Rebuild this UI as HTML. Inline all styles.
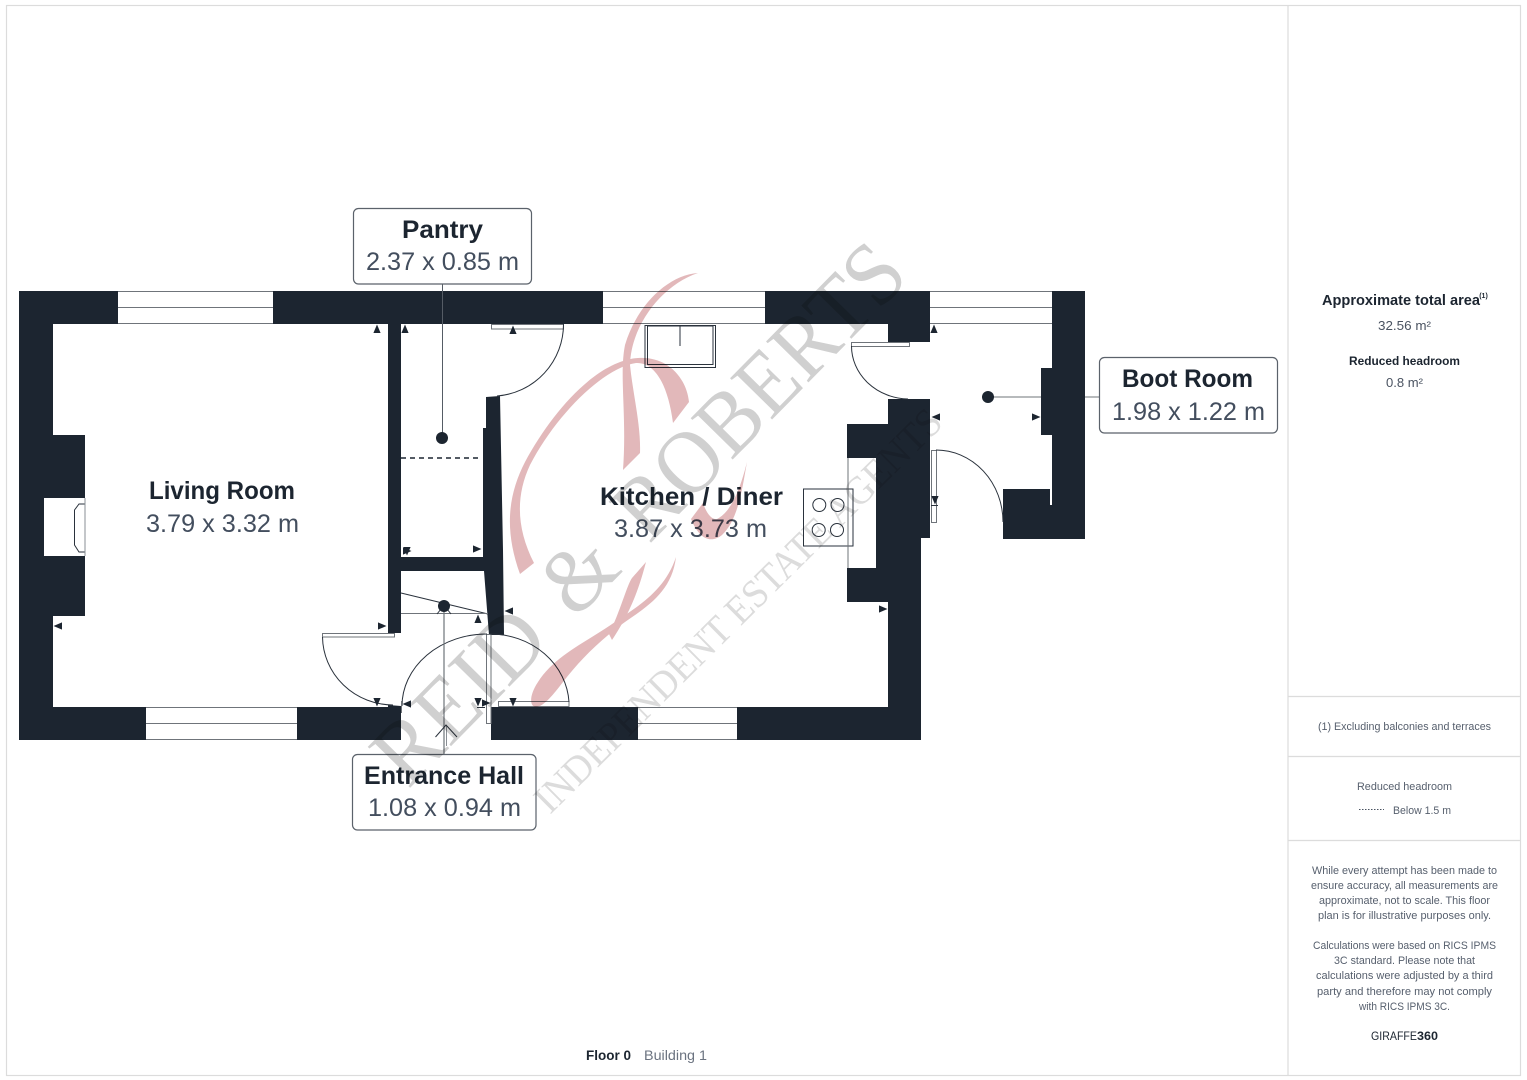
<!DOCTYPE html>
<html lang="en"><head><meta charset="utf-8"><title>Floor plan</title>
<style>
html,body{margin:0;padding:0;background:#fff;width:1527px;height:1080px;overflow:hidden}
svg{display:block;font-family:"Liberation Sans",sans-serif}
.t{font-weight:700;font-size:25px;fill:#1c2530;text-anchor:middle}
.d{font-size:25px;fill:#434e5e;text-anchor:middle}
.s{font-size:11px;fill:#565f6d;text-anchor:middle}
.w{fill:#1c2530}
.l{fill:none;stroke:#6f747a;stroke-width:1}
.k{fill:none;stroke:#2a323c;stroke-width:1}
.p{fill:#fff;stroke:#6f747a;stroke-width:1}
.m{mix-blend-mode:multiply}
</style></head><body>
<svg width="1527" height="1080" viewBox="0 0 1527 1080" xmlns="http://www.w3.org/2000/svg">
<defs><polygon id="a" points="0,-4.5 3.6,4 -3.6,4" fill="#1c2530"/></defs>
<rect width="1527" height="1080" fill="#fff"/>
<!-- frame -->
<g fill="none" stroke="#dcdcdc" stroke-width="1.2">
<rect x="6.5" y="5.5" width="1514" height="1070"/>
<path d="M1288 5V1075M1288 696.5H1521M1288 756.5H1521M1288 840.5H1521"/>
</g>
<!-- walls -->
<path class="w" d="M19 291H118V324H53V435H85V616H53V707H146V740H19Z"/>
<rect class="w" x="273" y="291" width="330" height="33"/>
<path class="w" d="M765 291H930V342H888V324H765Z"/>
<path class="w" d="M1052 291H1085V539H1003V489H1050V505H1052V435H1041V368H1052Z"/>
<path class="w" d="M888 399H930V538H921V740H737V707H888V602H847V568H876V458H847V424H888Z"/>
<rect class="w" x="491" y="707" width="147" height="33"/>
<path class="w" d="M297 707H388V705L401 706V740H297Z"/>
<rect class="w" x="388" y="324" width="13" height="309"/>
<path class="w" d="M486 397L500 396L503 550L504 635H489L484 571H401V557H483V428H486Z"/>
<!-- windows -->
<g class="l">
<path d="M118 291.5H273M118 307.5H273M118 323.5H273"/>
<path d="M603 291.5H765M603 307.5H765M603 323.5H765"/>
<path d="M930 291.5H1052M930 307.5H1052M930 323.5H1052"/>
<path d="M146 707.5H297M146 723.5H297M146 739.5H297"/>
<path d="M638 707.5H737M638 723.5H737M638 739.5H737"/>
</g>
<!-- fireplace -->
<rect x="44" y="498" width="41" height="58" fill="#fff"/>
<path class="k" d="M84.5 504H79L74.5 510V545L79 552H84.5"/>
<path d="M85 498V556" stroke="#8a8f95" stroke-width="1"/>
<!-- door leaves -->
<rect class="p" x="322.5" y="633.5" width="72" height="3.5"/>
<rect class="p" x="491.5" y="324.5" width="72" height="4.5"/>
<rect class="p" x="851.5" y="342.5" width="58" height="4"/>
<rect class="p" x="931.5" y="450.5" width="5" height="72"/>
<rect class="p" x="486.5" y="634.5" width="4.5" height="89"/>
<rect class="p" x="498.5" y="701.5" width="70.5" height="5"/>
<!-- door arcs -->
<g class="k">
<path d="M322.5 637A71 69 0 0 0 393 705"/>
<path d="M563.5 324A72 72 0 0 1 497 396"/>
<path d="M851.5 346A58 53 0 0 0 908 399"/>
<path d="M936 450A67 72 0 0 1 1003 522"/>
<path d="M402 706A85 72 0 0 1 487 634"/>
<path d="M490 634A79 72 0 0 1 569 702"/>
</g>
<path d="M401.5 701V713" stroke="#6f747a"/>
<path d="M477 707.5H485M931 505.5H938" stroke="#2a323c"/>
<!-- stairs, dashes, lines -->
<path class="k" d="M401 593L488 614"/>
<path class="l" d="M401 613.5H488"/>
<path d="M437 614L441 609M451 614L447 609" stroke="#2a323c"/>
<path d="M401 458H481" stroke="#1c2530" stroke-width="1.6" stroke-dasharray="5 4"/>
<path d="M442.5 284V438" stroke="#555c65" stroke-width="1"/>
<circle cx="442" cy="438" r="6" fill="#1c2530"/>
<path d="M444 606V754" stroke="#6f747a" stroke-width="1.2"/>
<path d="M446.500 726V746" stroke="#8a8f95" stroke-width="1"/>
<circle cx="444" cy="606" r="6" fill="#1c2530"/>
<path d="M435.500 737L446 725L457 737" fill="none" stroke="#2a323c"/>
<path d="M988 397H1041M1085 397H1099" stroke="#6f747a" stroke-width="1"/>
<circle cx="988" cy="397" r="6" fill="#1c2530"/>
<!-- sink & hob -->
<g class="k">
<rect x="645" y="325.500" width="70.500" height="42"/>
<rect x="647.500" y="326" width="65.500" height="38.500"/>
<path d="M680 325V346"/>
<rect x="803.500" y="489" width="49.500" height="57"/>
<circle cx="819.300" cy="505" r="6.500"/><circle cx="837.500" cy="505" r="6.500"/>
<circle cx="818.700" cy="530" r="6.500"/><circle cx="837" cy="530" r="6.500"/>
</g>
<path class="l" d="M848 458V568"/>
<!-- arrowheads -->
<use href="#a" transform="translate(377,329)"/>
<use href="#a" transform="translate(405,329)"/>
<use href="#a" transform="translate(513,330)"/>
<use href="#a" transform="translate(934,329)"/>
<use href="#a" transform="translate(936,417) rotate(-90)"/>
<use href="#a" transform="translate(1036,417) rotate(90)"/>
<use href="#a" transform="translate(935,500) rotate(180)"/>
<use href="#a" transform="translate(58,626) rotate(-90)"/>
<use href="#a" transform="translate(382,626) rotate(90)"/>
<use href="#a" transform="translate(377,702) rotate(180)"/>
<use href="#a" transform="translate(407,704) rotate(-90)"/>
<use href="#a" transform="translate(407,551) rotate(180)"/>
<use href="#a" transform="translate(407,551) rotate(90)"/>
<use href="#a" transform="translate(477,549) rotate(90)"/>
<use href="#a" transform="translate(478,619)"/>
<use href="#a" transform="translate(509,611) rotate(-90)"/>
<use href="#a" transform="translate(478,702) rotate(180)"/>
<use href="#a" transform="translate(486,703) rotate(90)"/>
<use href="#a" transform="translate(513,702) rotate(180)"/>
<use href="#a" transform="translate(883,609) rotate(90)"/>
<!-- label boxes -->
<g fill="#fff" stroke="#5b626b" stroke-width="1.2">
<rect x="353.500" y="208.500" width="178" height="75.500" rx="5"/>
<rect x="1099.500" y="357.500" width="178" height="75.500" rx="5"/>
<rect x="352.500" y="754.500" width="183.500" height="75.500" rx="5"/>
</g>
<!-- room text -->
<text class="t" x="222" y="499" textLength="146" lengthAdjust="spacingAndGlyphs">Living Room</text>
<text class="d" x="222.500" y="532" textLength="153" lengthAdjust="spacingAndGlyphs">3.79 x 3.32 m</text>
<text class="t" x="442.500" y="238" textLength="81" lengthAdjust="spacingAndGlyphs">Pantry</text>
<text class="d" x="442.500" y="270" textLength="153" lengthAdjust="spacingAndGlyphs">2.37 x 0.85 m</text>
<text class="t" x="691.500" y="505" textLength="183" lengthAdjust="spacingAndGlyphs">Kitchen / Diner</text>
<text class="d" x="690.500" y="537" textLength="153" lengthAdjust="spacingAndGlyphs">3.87 x 3.73 m</text>
<text class="t" x="1187.500" y="387" textLength="131" lengthAdjust="spacingAndGlyphs">Boot Room</text>
<text class="d" x="1188.500" y="420" textLength="153" lengthAdjust="spacingAndGlyphs">1.98 x 1.22 m</text>
<text class="t" x="444" y="784" textLength="160" lengthAdjust="spacingAndGlyphs">Entrance Hall</text>
<text class="d" x="444.500" y="816" textLength="153" lengthAdjust="spacingAndGlyphs">1.08 x 0.94 m</text>
<!-- side panel -->
<text x="1401" y="305" text-anchor="middle" font-size="14.500" font-weight="700" fill="#1c2530" textLength="158" lengthAdjust="spacingAndGlyphs">Approximate total area</text>
<text x="1483.500" y="298" text-anchor="middle" font-size="7" font-weight="700" fill="#1c2530">(1)</text>
<text x="1404.500" y="330" text-anchor="middle" font-size="13" fill="#4a5361" textLength="53" lengthAdjust="spacingAndGlyphs">32.56 m²</text>
<text x="1404.500" y="365" text-anchor="middle" font-size="12" font-weight="700" fill="#1c2530" textLength="111" lengthAdjust="spacingAndGlyphs">Reduced headroom</text>
<text x="1404.500" y="387" text-anchor="middle" font-size="13" fill="#4a5361" textLength="37" lengthAdjust="spacingAndGlyphs">0.8 m²</text>
<text class="s" x="1404.500" y="730" textLength="173" lengthAdjust="spacingAndGlyphs">(1) Excluding balconies and terraces</text>
<text class="s" x="1404.500" y="790" textLength="95" lengthAdjust="spacingAndGlyphs">Reduced headroom</text>
<path d="M1359 809.500H1384" stroke="#4a5361" stroke-width="1" stroke-dasharray="1.500 1.500"/>
<text class="s" x="1422" y="814" textLength="58" lengthAdjust="spacingAndGlyphs">Below 1.5 m</text>
<text class="s" x="1404.500" y="874" textLength="185" lengthAdjust="spacingAndGlyphs">While every attempt has been made to</text>
<text class="s" x="1404.500" y="889" textLength="187" lengthAdjust="spacingAndGlyphs">ensure accuracy, all measurements are</text>
<text class="s" x="1404.500" y="904" textLength="171" lengthAdjust="spacingAndGlyphs">approximate, not to scale. This floor</text>
<text class="s" x="1404.500" y="919" textLength="173" lengthAdjust="spacingAndGlyphs">plan is for illustrative purposes only.</text>
<text class="s" x="1404.500" y="949" textLength="183" lengthAdjust="spacingAndGlyphs">Calculations were based on RICS IPMS</text>
<text class="s" x="1404.500" y="964" textLength="141" lengthAdjust="spacingAndGlyphs">3C standard. Please note that</text>
<text class="s" x="1404.500" y="979" textLength="177" lengthAdjust="spacingAndGlyphs">calculations were adjusted by a third</text>
<text class="s" x="1404.500" y="995" textLength="175" lengthAdjust="spacingAndGlyphs">party and therefore may not comply</text>
<text class="s" x="1404.500" y="1010" textLength="91" lengthAdjust="spacingAndGlyphs">with RICS IPMS 3C.</text>
<text x="1371" y="1040" font-size="12" fill="#1c2530" textLength="46" lengthAdjust="spacingAndGlyphs">GIRAFFE</text>
<text x="1417" y="1040" font-size="12" font-weight="700" fill="#1c2530" textLength="21" lengthAdjust="spacingAndGlyphs">360</text>
<text x="586" y="1060" font-size="14" font-weight="700" fill="#1c2530" textLength="45" lengthAdjust="spacingAndGlyphs">Floor 0</text>
<text x="644" y="1060" font-size="14" fill="#6b7380" textLength="63" lengthAdjust="spacingAndGlyphs">Building 1</text>
<!-- watermark pink -->
<g fill="#e2b8ba" class="m">
<path d="M698 273C668 275 637 305 625 345C619 375 627 415 623 470L640 453C641 425 633 395 630 365C631 325 662 285 698 273Z"/>
<path d="M689 402C686 375 665 356 638 358C597 361 553 410 525 462C508 495 504 530 520 574L534 563C517 530 515 497 530 465C556 415 603 368 636 363C655 362 668 385 673 423Z"/>
<path d="M747 462C742 490 738 520 722 535C712 543 700 541 691 519L703 503C706 512 711 520 717 519C731 512 740 490 747 462Z"/>
<path d="M676 557C672 590 650 605 625 622C600 640 580 660 563 682C553 695 545 705 537 707C530 708 528 697 538 682C555 655 590 640 615 622C640 605 665 590 676 557Z"/>
<path d="M646 562C640 585 632 610 612 640L609 634C620 612 627 585 632 578Z"/>
</g>
<!-- watermark text -->
<g font-family="'Liberation Serif',serif" fill="#d0d0d0" class="m">
<text transform="translate(408,790) rotate(-45.500)" font-size="90" textLength="206" lengthAdjust="spacingAndGlyphs">REID</text>
<text transform="translate(575.500,619.600) rotate(-45.500)" font-size="90" textLength="69" lengthAdjust="spacingAndGlyphs">&amp;</text>
<text transform="translate(649,544.700) rotate(-45.500)" font-size="90" textLength="374" lengthAdjust="spacingAndGlyphs">ROBERTS</text>
<text transform="translate(550,815) rotate(-44.700)" font-size="40" fill="#dcdcdc" textLength="555" lengthAdjust="spacingAndGlyphs">INDEPENDENT ESTATE AGENTS</text>
</g>
</svg>
</body></html>
